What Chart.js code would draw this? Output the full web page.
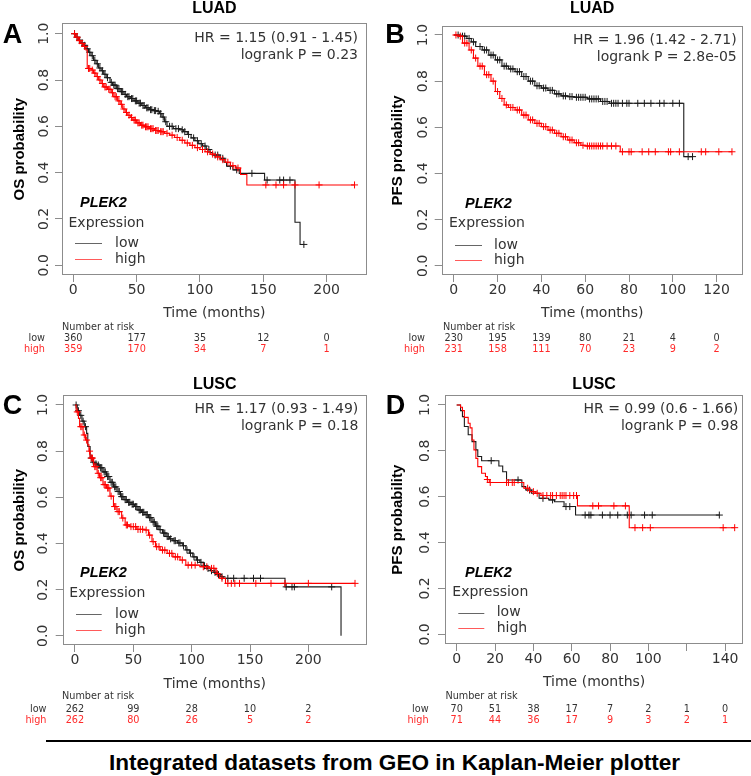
<!DOCTYPE html>
<html><head><meta charset="utf-8">
<script src="https://cdn.jsdelivr.net/npm/chart.js@4.4.1/dist/chart.umd.min.js"></script>
<style>
html,body{margin:0;padding:0;background:#fff;}
#wrap{position:relative;width:751px;height:776px;overflow:hidden;background:#fff;}
canvas{position:absolute;}
#rule{position:absolute;left:46px;top:740px;width:705px;height:2px;background:#000;}
#caption{position:absolute;left:0;width:789px;top:749px;text-align:center;font:bold 22.6px "Liberation Sans",Arial,sans-serif;color:#000;line-height:28px;white-space:nowrap;}
</style></head>
<body><div id="wrap">
<canvas id="cA" width="375" height="370" style="left:0;top:0"></canvas>
<canvas id="cB" width="376" height="370" style="left:375px;top:0"></canvas>
<canvas id="cC" width="375" height="370" style="left:0;top:370px"></canvas>
<canvas id="cD" width="376" height="370" style="left:375px;top:370px"></canvas>
<div id="rule"></div>
<div id="caption">Integrated datasets from GEO in Kaplan-Meier plotter</div>
</div>
<script>
// ---------------- DATA ----------------
const yTicks = [0, 0.2, 0.4, 0.6, 0.8, 1.0];
const yTickLabels = ['0.0', '0.2', '0.4', '0.6', '0.8', '1.0'];
const riskRowLabels = ['low', 'high'];

// A: LUAD OS
const luadOsTicks = [0, 50, 100, 150, 200];
const luadOsTickLabels = ['0', '50', '100', '150', '200'];
const luadOsRiskLow = [360, 177, 35, 12, 0];
const luadOsRiskHigh = [359, 170, 34, 7, 1];
const luadOsStats = ['HR = 1.15 (0.91 - 1.45)', 'logrank P = 0.23'];
const luadOsLow = [[0,1],[2,0.985],[4,0.972],[6,0.96],[8,0.95],[10,0.935],[12,0.92],[14,0.905],[16,0.885],[18,0.87],[20,0.852],[22,0.84],[24,0.825],[26,0.81],[29,0.79],[31,0.778],[34,0.763],[37,0.75],[40,0.738],[42,0.728],[45,0.72],[48,0.71],[51,0.70],[54,0.69],[57,0.68],[60,0.672],[63,0.668],[66,0.665],[68,0.655],[70,0.64],[72,0.62],[74,0.60],[79,0.59],[84,0.585],[87,0.577],[90,0.565],[93,0.55],[96,0.538],[99,0.525],[102,0.515],[105,0.5],[108,0.487],[110,0.476],[116,0.462],[119,0.445],[121,0.428],[126,0.412],[131,0.397],[151,0.368],[175,0.186],[179,0.09],[182,0.09]];
const luadOsLowCens = [[1,1],[3,0.985],[5,0.972],[7,0.96],[9,0.95],[11,0.935],[13,0.92],[15,0.905],[17,0.885],[19,0.87],[21,0.852],[23,0.84],[25,0.825],[27,0.81],[30,0.79],[32,0.778],[33,0.778],[35,0.763],[36,0.763],[38,0.75],[39,0.75],[41,0.738],[43,0.728],[44,0.728],[46,0.72],[47,0.72],[49,0.71],[50,0.71],[52,0.70],[53,0.70],[55,0.69],[56,0.69],[58,0.68],[59,0.68],[61,0.672],[62,0.672],[64,0.668],[65,0.668],[67,0.665],[69,0.655],[71,0.64],[73,0.62],[76,0.60],[78,0.60],[81,0.59],[83,0.59],[86,0.585],[88,0.577],[91,0.565],[95,0.55],[98,0.538],[101,0.525],[104,0.515],[107,0.5],[112,0.476],[114,0.476],[118,0.462],[124,0.428],[129,0.412],[141,0.397],[153,0.368],[163,0.368],[166,0.368],[171,0.368],[182,0.09]];
const luadOsHigh = [[0,1],[2,0.985],[4,0.97],[6,0.958],[8,0.945],[10,0.93],[11,0.85],[14,0.843],[16,0.83],[18,0.815],[20,0.80],[22,0.785],[24,0.77],[27,0.76],[30,0.745],[32,0.728],[35,0.71],[37,0.695],[39,0.675],[41,0.66],[43,0.648],[45,0.638],[47,0.627],[50,0.615],[53,0.605],[56,0.598],[60,0.59],[64,0.582],[68,0.577],[72,0.57],[76,0.562],[80,0.552],[84,0.54],[88,0.528],[92,0.518],[96,0.508],[100,0.5],[104,0.49],[108,0.48],[112,0.468],[116,0.456],[120,0.445],[124,0.43],[128,0.42],[132,0.392],[137,0.347],[222,0.347]];
const luadOsHighCens = [[1,1],[3,0.985],[5,0.97],[7,0.958],[9,0.945],[12,0.85],[13,0.85],[15,0.843],[17,0.83],[19,0.815],[21,0.8],[23,0.785],[25,0.77],[26,0.77],[28,0.76],[29,0.76],[31,0.745],[33,0.728],[34,0.728],[36,0.71],[38,0.695],[40,0.675],[42,0.66],[44,0.648],[46,0.638],[48,0.627],[49,0.627],[51,0.615],[52,0.615],[54,0.605],[55,0.605],[57,0.598],[58,0.598],[59,0.598],[61,0.59],[62,0.59],[63,0.59],[65,0.582],[66,0.582],[67,0.582],[69,0.577],[70,0.577],[71,0.577],[74,0.57],[78,0.562],[82,0.552],[86,0.54],[90,0.528],[94,0.518],[98,0.508],[102,0.5],[106,0.49],[110,0.48],[114,0.468],[118,0.456],[122,0.445],[126,0.43],[130,0.42],[152,0.347],[160,0.347],[166,0.347],[175,0.347],[194,0.347],[222,0.347]];

// B: LUAD PFS
const luadPfsTicks = [0, 20, 40, 60, 80, 100, 120];
const luadPfsTickLabels = ['0', '20', '40', '60', '80', '100', '120'];
const luadPfsRiskLow = [230, 195, 139, 80, 21, 4, 0];
const luadPfsRiskHigh = [231, 158, 111, 70, 23, 9, 2];
const luadPfsStats = ['HR = 1.96 (1.42 - 2.71)', 'logrank P = 2.8e-05'];
const luadPfsLow = [[0,1],[3,0.995],[6,0.985],[8,0.97],[10,0.95],[13,0.935],[16,0.913],[19,0.892],[22,0.865],[25,0.853],[28,0.841],[31,0.82],[34,0.8],[37,0.78],[40,0.77],[43,0.76],[46,0.745],[49,0.736],[52,0.733],[55,0.73],[61,0.723],[67,0.712],[71,0.704],[105,0.473],[109,0.473]];
const luadPfsLowCens = [[2,1],[4,0.995],[5,0.995],[7,0.985],[9,0.97],[12,0.95],[14,0.935],[15,0.935],[17,0.913],[18,0.913],[20,0.892],[21,0.892],[23,0.865],[24,0.865],[26,0.853],[27,0.853],[29,0.841],[30,0.841],[32,0.82],[33,0.82],[35,0.8],[36,0.8],[38,0.78],[39,0.78],[41,0.77],[42,0.77],[44,0.76],[45,0.76],[47,0.745],[48,0.745],[50,0.736],[51,0.736],[53,0.733],[54,0.733],[56,0.73],[57,0.73],[58,0.73],[59,0.73],[60,0.73],[62,0.723],[63,0.723],[64,0.723],[65,0.723],[66,0.723],[68,0.712],[69,0.712],[70,0.712],[72,0.704],[73,0.704],[74,0.704],[75,0.704],[77,0.704],[79,0.704],[80,0.704],[84,0.704],[87,0.704],[90,0.704],[94,0.704],[96,0.704],[100,0.704],[103,0.704],[107,0.473],[109,0.473]];
const luadPfsHigh = [[0,1],[2,0.995],[4,0.965],[7,0.935],[9,0.9],[11,0.865],[14,0.828],[17,0.8],[19,0.755],[21,0.725],[23,0.697],[25,0.686],[28,0.675],[31,0.653],[34,0.632],[37,0.617],[40,0.603],[43,0.588],[46,0.574],[49,0.559],[52,0.545],[55,0.533],[58,0.522],[60,0.519],[76,0.494],[127,0.494]];
const luadPfsHighCens = [[1,1],[3,0.995],[5,0.965],[6,0.965],[8,0.935],[10,0.9],[12,0.865],[13,0.865],[15,0.828],[16,0.828],[18,0.8],[20,0.755],[22,0.725],[24,0.697],[26,0.686],[27,0.686],[29,0.675],[30,0.675],[32,0.653],[33,0.653],[35,0.632],[36,0.632],[38,0.617],[39,0.617],[41,0.603],[42,0.603],[44,0.588],[45,0.588],[47,0.574],[48,0.574],[50,0.559],[51,0.559],[53,0.545],[54,0.545],[56,0.533],[57,0.533],[59,0.522],[61,0.519],[62,0.519],[63,0.519],[64,0.519],[65,0.519],[66,0.519],[67,0.519],[68,0.519],[70,0.519],[72,0.519],[74,0.519],[77,0.494],[80,0.494],[81,0.494],[86,0.494],[89,0.494],[92,0.494],[98,0.494],[99,0.494],[103,0.494],[113,0.494],[115,0.494],[121,0.494],[127,0.494]];

// C: LUSC OS
const luscOsTicks = [0, 50, 100, 150, 200];
const luscOsTickLabels = ['0', '50', '100', '150', '200'];
const luscOsRiskLow = [262, 99, 28, 10, 2];
const luscOsRiskHigh = [262, 80, 26, 5, 2];
const luscOsStats = ['HR = 1.17 (0.93 - 1.49)', 'logrank P = 0.18'];
const luscOsLow = [[0,1],[2,0.975],[4,0.955],[6,0.93],[8,0.906],[10,0.877],[11,0.82],[13,0.77],[15,0.752],[17,0.745],[19,0.74],[21,0.728],[24,0.71],[27,0.69],[30,0.665],[33,0.645],[36,0.625],[39,0.603],[42,0.59],[45,0.578],[48,0.57],[51,0.56],[54,0.545],[57,0.535],[60,0.525],[63,0.512],[66,0.493],[69,0.475],[72,0.46],[75,0.445],[78,0.43],[81,0.42],[84,0.412],[88,0.402],[92,0.39],[95,0.372],[98,0.358],[101,0.342],[104,0.328],[107,0.318],[110,0.303],[113,0.292],[116,0.282],[119,0.275],[122,0.265],[125,0.256],[127,0.249],[180,0.212],[228,0]];
const luscOsLowCens = [[1,1],[3,0.975],[5,0.955],[7,0.93],[9,0.906],[14,0.77],[16,0.752],[18,0.745],[20,0.74],[22,0.728],[23,0.728],[25,0.71],[26,0.71],[28,0.69],[29,0.69],[31,0.665],[32,0.665],[34,0.645],[35,0.645],[37,0.625],[38,0.625],[40,0.603],[41,0.603],[43,0.59],[44,0.59],[46,0.578],[47,0.578],[49,0.57],[50,0.57],[52,0.56],[53,0.56],[55,0.545],[56,0.545],[58,0.535],[59,0.535],[61,0.525],[62,0.525],[64,0.512],[65,0.512],[67,0.493],[68,0.493],[70,0.475],[71,0.475],[73,0.46],[76,0.445],[77,0.445],[79,0.43],[80,0.43],[82,0.42],[85,0.412],[86,0.412],[89,0.402],[90,0.402],[93,0.39],[96,0.372],[99,0.358],[102,0.342],[105,0.328],[108,0.318],[111,0.303],[114,0.292],[117,0.282],[120,0.275],[123,0.265],[126,0.256],[131,0.249],[136,0.249],[145,0.249],[153,0.249],[159,0.249],[181,0.212],[186,0.212],[188,0.212],[220,0.212]];
const luscOsHigh = [[0,1],[1,0.97],[3,0.942],[4,0.906],[7,0.87],[9,0.848],[11,0.827],[12,0.8],[13,0.77],[16,0.733],[19,0.704],[21,0.685],[24,0.655],[27,0.64],[30,0.605],[33,0.56],[36,0.538],[40,0.51],[43,0.48],[47,0.473],[53,0.461],[60,0.458],[63,0.436],[66,0.408],[69,0.386],[73,0.371],[79,0.357],[84,0.342],[90,0.328],[95,0.306],[107,0.299],[115,0.292],[121,0.27],[124,0.249],[129,0.227],[240,0.227]];
const luscOsHighCens = [[2,0.97],[5,0.906],[6,0.906],[8,0.87],[10,0.848],[12.5,0.8],[14,0.77],[15,0.77],[17,0.733],[18,0.733],[20,0.704],[22,0.685],[23,0.685],[25,0.655],[26,0.655],[28,0.64],[29,0.64],[31,0.605],[34,0.56],[35,0.56],[37,0.538],[38,0.538],[41,0.51],[44,0.48],[45,0.48],[48,0.473],[50,0.473],[52,0.473],[54,0.461],[56,0.461],[58,0.461],[61,0.458],[64,0.436],[67,0.408],[70,0.386],[72,0.386],[75,0.371],[77,0.371],[81,0.357],[83,0.357],[86,0.342],[88,0.342],[92,0.328],[97,0.306],[100,0.306],[103,0.306],[110,0.299],[113,0.299],[117,0.292],[119,0.292],[122,0.27],[126,0.249],[131,0.227],[134,0.227],[137,0.227],[141,0.227],[155,0.227],[168,0.227],[180,0.227],[200,0.227],[240,0.227]];

// D: LUSC PFS
const luscPfsTicks = [0, 20, 40, 60, 80, 100, 120, 140];
const luscPfsTickLabels = ['0', '20', '40', '60', '80', '100', '', '140'];
const luscPfsRiskLow = [70, 51, 38, 17, 7, 2, 1, 0];
const luscPfsRiskHigh = [71, 44, 36, 17, 9, 3, 2, 1];
const luscPfsStats = ['HR = 0.99 (0.6 - 1.66)', 'logrank P = 0.98'];
const luscPfsLow = [[0,1],[2,0.975],[3,0.949],[4,0.906],[6,0.87],[8,0.84],[10,0.804],[11,0.775],[13,0.757],[22,0.734],[24,0.709],[26,0.673],[34,0.644],[36,0.629],[39,0.615],[43,0.593],[48,0.586],[51,0.578],[56,0.557],[62,0.52],[137,0.52]];
const luscPfsLowCens = [[18,0.757],[32,0.673],[38,0.629],[45,0.593],[50,0.586],[57,0.557],[59,0.557],[67,0.52],[69,0.52],[70,0.52],[76,0.52],[80,0.52],[84,0.52],[89,0.52],[91,0.52],[98,0.52],[102,0.52],[137,0.52]];
const luscPfsHigh = [[0,1],[2,0.99],[3,0.975],[4,0.946],[6,0.92],[7,0.9],[8,0.847],[9,0.804],[10,0.767],[11,0.731],[13,0.702],[15,0.688],[16,0.675],[17,0.662],[35,0.637],[38,0.622],[41,0.615],[44,0.605],[63,0.56],[90,0.465],[145,0.465]];
const luscPfsHighCens = [[16,0.675],[17.5,0.662],[26,0.662],[27,0.662],[29,0.662],[30,0.662],[37,0.637],[40,0.622],[42,0.615],[45,0.605],[47,0.605],[49,0.605],[50,0.605],[52,0.605],[54,0.605],[55,0.605],[56,0.605],[57,0.605],[59,0.605],[61,0.605],[62.5,0.605],[71,0.56],[74,0.56],[82,0.56],[88,0.56],[93,0.465],[97,0.465],[101,0.465],[139,0.465],[145,0.465]];

// ---------------- LAYOUT / STYLE ----------------
const RED = '#ff0000', BLACK = '#1a1a1a', BOX = '#8c8c8c', TXT = '#333333', RISKRED = '#ff2a2a';
const FR = '"DejaVu Sans", sans-serif';
const FB = '"Liberation Sans", Arial, sans-serif';

const panels = {
  cA: { w:375, h:370, box:{l:62, r:366.7, t:23.3, b:275}, xr:[-8.9,231.6], yr:[-0.042,1.045],
        letter:'A', letterX:12.5, letterY:36, title:'LUAD', titleY:9, ylab:'OS probability', ylabX:19.5, yTickX:44,
        xTickY:290, xTitleY:313.5, statX:358, statY:[38.5,55.3],
        lg:{gX:80,gY:203,eX:68.5,eY:223,l1:75,l2:102,lowY:243,highY:259,tX:115},
        rk:{hX:62,hY:327,labX:45,lowY:338,highY:349},
        ticks:luadOsTicks, tickLabels:luadOsTickLabels, riskLow:luadOsRiskLow, riskHigh:luadOsRiskHigh, stats:luadOsStats,
        low:luadOsLow, lowC:luadOsLowCens, high:luadOsHigh, highC:luadOsHighCens },
  cB: { w:376, h:370, box:{l:66.7, r:367.7, t:26, b:275}, xr:[-5.5,131.9], yr:[-0.040,1.039],
        letter:'B', letterX:20, letterY:36, title:'LUAD', titleY:9, ylab:'PFS probability', ylabX:23, yTickX:48,
        xTickY:290.5, xTitleY:313.5, statX:361.7, statY:[40.5,57.3],
        lg:{gX:90,gY:204,eX:74,eY:223,l1:80,l2:107,lowY:245,highY:260,tX:119},
        rk:{hX:68,hY:327,labX:50,lowY:338,highY:349},
        ticks:luadPfsTicks, tickLabels:luadPfsTickLabels, riskLow:luadPfsRiskLow, riskHigh:luadPfsRiskHigh, stats:luadPfsStats,
        low:luadPfsLow, lowC:luadPfsLowCens, high:luadPfsHigh, highC:luadPfsHighCens },
  cC: { w:375, h:370, box:{l:62.7, r:366.7, t:25.3, b:275}, xr:[-10.5,250], yr:[-0.040,1.042],
        letter:'C', letterX:12.5, letterY:36.3, title:'LUSC', titleY:14.3, ylab:'OS probability', ylabX:19.5, yTickX:43.5,
        xTickY:290.7, xTitleY:314, statX:358.3, statY:[39,56.7],
        lg:{gX:80,gY:203.3,eX:69.3,eY:223.3,l1:76,l2:101.7,lowY:244,highY:260,tX:115},
        rk:{hX:62,hY:326.7,labX:46.5,lowY:339.3,highY:350.7},
        ticks:luscOsTicks, tickLabels:luscOsTickLabels, riskLow:luscOsRiskLow, riskHigh:luscOsRiskHigh, stats:luscOsStats,
        low:luscOsLow, lowC:luscOsLowCens, high:luscOsHigh, highC:luscOsHighCens },
  cD: { w:376, h:370, box:{l:70, r:368.3, t:25.3, b:274}, xr:[-6.1,149.5], yr:[-0.042,1.042],
        letter:'D', letterX:20.5, letterY:36.3, title:'LUSC', titleY:14.3, ylab:'PFS probability', ylabX:23, yTickX:50,
        xTickY:289.3, xTitleY:312.3, statX:363.3, statY:[39,56.7],
        lg:{gX:90,gY:203.3,eX:77.3,eY:222.7,l1:83.3,l2:109.3,lowY:242.7,highY:258.3,tX:121.7},
        rk:{hX:70.4,hY:326.7,labX:53.6,lowY:339.3,highY:350.7},
        ticks:luscPfsTicks, tickLabels:luscPfsTickLabels, riskLow:luscPfsRiskLow, riskHigh:luscPfsRiskHigh, stats:luscPfsStats,
        low:luscPfsLow, lowC:luscPfsLowCens, high:luscPfsHigh, highC:luscPfsHighCens }
};

function txt(ctx, s, x, y, font, color, align, rot) {
  ctx.save();
  ctx.font = font; ctx.fillStyle = color; ctx.textAlign = align || 'center'; ctx.textBaseline = 'middle';
  ctx.translate(x, y);
  if (rot) ctx.rotate(rot);
  ctx.fillText(s, 0, 0);
  ctx.restore();
}

const deco = {
  id: 'deco',
  afterDraw(chart) {
    const p = panels[chart.canvas.id];
    const ctx = chart.ctx, ca = chart.chartArea, xs = chart.scales.x, ys = chart.scales.y;
    ctx.save();
    ctx.strokeStyle = BOX; ctx.lineWidth = 1;
    const L = Math.round(ca.left) + 0.5, T = Math.round(ca.top) + 0.5, R = Math.round(ca.right) - 0.5, B = Math.round(ca.bottom) - 0.5;
    ctx.strokeRect(L, T, R - L, B - T);
    const cx = (ca.left + ca.right) / 2, cy = (ca.top + ca.bottom) / 2;
    txt(ctx, p.letter, p.letterX, p.letterY, 'bold 27px ' + FB, '#000', 'center');
    txt(ctx, p.title, cx, p.titleY, 'bold 16px ' + FB, '#000', 'center');
    txt(ctx, p.ylab, p.ylabX, cy, 'bold 15px ' + FB, '#000', 'center', -Math.PI / 2);
    txt(ctx, 'Time (months)', cx, p.xTitleY, '14px ' + FR, TXT, 'center');
    yTicks.forEach((v, i) => txt(ctx, yTickLabels[i], p.yTickX, ys.getPixelForValue(v), '14px ' + FR, TXT, 'center', -Math.PI / 2));
    p.ticks.forEach((v, i) => txt(ctx, p.tickLabels[i], xs.getPixelForValue(v), p.xTickY, '14px ' + FR, TXT, 'center'));
    txt(ctx, p.stats[0], p.statX, p.statY[0], '14px ' + FR, TXT, 'right');
    txt(ctx, p.stats[1], p.statX, p.statY[1], '14px ' + FR, TXT, 'right');
    const g = p.lg;
    txt(ctx, 'PLEK2', g.gX, g.gY, 'italic bold 14.5px ' + FB, '#000', 'left');
    txt(ctx, 'Expression', g.eX, g.eY, '14px ' + FR, TXT, 'left');
    ctx.lineWidth = 1;
    ctx.strokeStyle = '#666';
    ctx.beginPath(); ctx.moveTo(g.l1, Math.round(g.lowY) + 0.5); ctx.lineTo(g.l2, Math.round(g.lowY) + 0.5); ctx.stroke();
    ctx.strokeStyle = '#ff5a5a';
    ctx.beginPath(); ctx.moveTo(g.l1, Math.round(g.highY) + 0.5); ctx.lineTo(g.l2, Math.round(g.highY) + 0.5); ctx.stroke();
    txt(ctx, 'low', g.tX, g.lowY, '14px ' + FR, TXT, 'left');
    txt(ctx, 'high', g.tX, g.highY, '14px ' + FR, TXT, 'left');
    const k = p.rk;
    txt(ctx, 'Number at risk', k.hX, k.hY, '9.7px ' + FR, TXT, 'left');
    txt(ctx, riskRowLabels[0], k.labX, k.lowY, '9.7px ' + FR, TXT, 'right');
    txt(ctx, riskRowLabels[1], k.labX, k.highY, '9.7px ' + FR, RISKRED, 'right');
    p.ticks.forEach((v, i) => {
      const x = xs.getPixelForValue(v);
      txt(ctx, String(p.riskLow[i]), x, k.lowY, '9.7px ' + FR, TXT, 'center');
      txt(ctx, String(p.riskHigh[i]), x, k.highY, '9.7px ' + FR, RISKRED, 'center');
    });
    ctx.restore();
  }
};

const toXY = arr => arr.map(d => ({ x: d[0], y: d[1] }));

function build(id) {
  const p = panels[id];
  new Chart(document.getElementById(id), {
    type: 'line',
    data: { datasets: [
      { label: 'high', data: toXY(p.high), stepped: 'before', borderColor: RED, borderWidth: 1.1, pointRadius: 0, fill: false, order: 0 },
      { label: 'high censored', data: toXY(p.highC), showLine: false, pointStyle: 'cross', pointRadius: 3.5, borderColor: RED, backgroundColor: RED, pointBorderWidth: 1, order: 0 },
      { label: 'low', data: toXY(p.low), stepped: 'before', borderColor: BLACK, borderWidth: 1.1, pointRadius: 0, fill: false, order: 1 },
      { label: 'low censored', data: toXY(p.lowC), showLine: false, pointStyle: 'cross', pointRadius: 3.5, borderColor: BLACK, backgroundColor: BLACK, pointBorderWidth: 1, order: 1 }
    ]},
    options: {
      responsive: false, animation: false, devicePixelRatio: 1,
      layout: { padding: { left: 0, top: p.box.t, right: p.w - p.box.r, bottom: 0 } },
      plugins: { legend: { display: false }, tooltip: { enabled: false }, title: { display: false } },
      scales: {
        x: { type: 'linear', min: p.xr[0], max: p.xr[1],
             afterBuildTicks: s => { s.ticks = p.ticks.map(v => ({ value: v })); },
             afterFit: s => { s.height = p.h - p.box.b; },
             ticks: { display: false },
             grid: { drawOnChartArea: false, drawTicks: true, tickLength: 7, color: BOX, tickColor: BOX, tickWidth: 1 },
             border: { display: false } },
        y: { type: 'linear', min: p.yr[0], max: p.yr[1],
             afterBuildTicks: s => { s.ticks = yTicks.map(v => ({ value: v })); },
             afterFit: s => { s.width = p.box.l; },
             ticks: { display: false },
             grid: { drawOnChartArea: false, drawTicks: true, tickLength: 7, color: BOX, tickColor: BOX, tickWidth: 1 },
             border: { display: false } }
      }
    },
    plugins: [deco]
  });
}
['cA', 'cB', 'cC', 'cD'].forEach(build);
</script>
</body></html>
